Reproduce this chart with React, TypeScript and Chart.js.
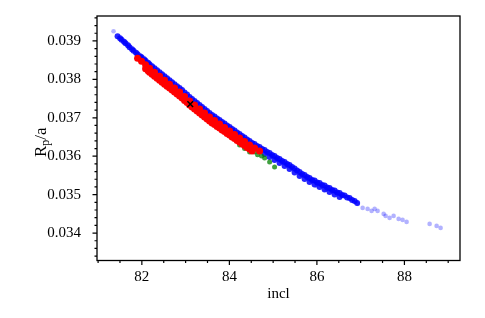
import React, { useEffect, useRef } from "react";
import { Chart, registerables } from "chart.js";

Chart.register(...registerables);

// ---- Data ----
const X_TICKS = [82, 84, 86, 88];
const Y_TICKS = [0.034, 0.035, 0.036, 0.037, 0.038, 0.039];

const BLUE_X = [81.445, 81.536, 81.627, 81.719, 81.81, 81.902, 81.993, 82.085, 82.176, 82.29, 82.405, 82.519, 82.633, 82.747, 82.862, 82.976, 83.09, 83.205, 83.319, 83.433, 83.547, 83.662, 83.776, 83.89, 84.005, 84.119, 84.233, 84.347, 84.462, 84.576, 84.69, 84.805, 84.919, 85.033, 85.147, 85.262, 85.376, 85.49, 85.605, 85.719, 85.833, 85.947, 86.062, 86.176, 86.29, 86.405, 86.519, 86.633, 86.747, 86.862,
  81.502, 81.593, 81.684, 81.776, 81.867, 81.959, 82.05, 82.142, 82.233, 82.347, 82.462, 82.576, 82.69, 82.804, 82.919, 83.033, 83.147, 83.262, 83.376, 83.49, 83.604, 83.719, 83.833, 83.947, 84.062, 84.176, 84.29, 84.404, 84.519, 84.633, 84.747, 84.862, 84.976, 85.09, 85.204, 85.319, 85.433, 85.547, 85.662, 85.776, 85.89, 86.004, 86.119, 86.233, 86.347, 86.462, 86.576, 86.69, 86.804, 86.919,
  84.805, 84.919, 85.033, 85.147, 85.262, 85.376, 85.49, 85.605, 85.719, 85.833, 85.947, 86.062, 86.176, 86.29, 86.405, 86.519];
const BLUE_Y = [0.039122, 0.039031, 0.03894, 0.038836, 0.038745, 0.038655, 0.038577, 0.038486, 0.038395, 0.038291, 0.038187, 0.038083, 0.03798, 0.037876, 0.037772, 0.037655, 0.037538, 0.037434, 0.03733, 0.037226, 0.037122, 0.037031, 0.036941, 0.03685, 0.036759, 0.036668, 0.036577, 0.036486, 0.036395, 0.036317, 0.036239, 0.036161, 0.036083, 0.036005, 0.035927, 0.035849, 0.035771, 0.035681, 0.03559, 0.035512, 0.035434, 0.035369, 0.035304, 0.035239, 0.035174, 0.035109, 0.035044, 0.034979, 0.034914, 0.034836,
  0.03907, 0.038979, 0.038888, 0.038784, 0.038693, 0.038603, 0.038525, 0.038434, 0.038343, 0.038239, 0.038135, 0.038031, 0.037928, 0.037824, 0.03772, 0.037603, 0.037486, 0.037382, 0.037278, 0.037174, 0.03707, 0.036979, 0.036889, 0.036798, 0.036707, 0.036616, 0.036525, 0.036434, 0.036343, 0.036265, 0.036187, 0.036109, 0.036031, 0.035953, 0.035875, 0.035797, 0.035719, 0.035629, 0.035538, 0.03546, 0.035382, 0.035317, 0.035252, 0.035187, 0.035122, 0.035057, 0.034992, 0.034927, 0.034862, 0.034784,
  0.036057, 0.035979, 0.035901, 0.035823, 0.035745, 0.035667, 0.035577, 0.035486, 0.035408, 0.03533, 0.035265, 0.0352, 0.035135, 0.03507, 0.035005, 0.03494];

const TAIL_X = [81.353, 86.935, 87.045, 87.159, 87.25, 87.319, 87.387, 87.525, 87.57, 87.661, 87.753, 87.867, 87.958, 88.05, 88.576, 88.736, 88.827, 85.993, 86.2];
const TAIL_Y = [0.039252, 0.034759, 0.034655, 0.034629, 0.034577, 0.034629, 0.034577, 0.034499, 0.034447, 0.034395, 0.034447, 0.034369, 0.034343, 0.034291, 0.034239, 0.034187, 0.034135, 0.035226, 0.03513];

const RED_X = [81.902, 81.993, 82.085, 82.176, 82.29, 82.405, 82.519, 82.633, 82.747, 82.862, 82.976, 83.09, 83.205, 83.319, 83.433, 83.547, 83.662, 83.776, 83.89, 84.005, 84.119, 84.233, 84.347, 84.462, 84.576, 84.69,
  82.142, 82.233, 82.347, 82.462, 82.576, 82.69, 82.804, 82.919, 83.033, 83.147, 83.262, 83.376, 83.49, 83.604, 83.719, 83.833, 83.947, 84.062, 84.176, 84.29, 84.404, 84.519,
  82.085, 82.176, 82.29, 82.405, 82.519, 82.633, 82.747, 82.862, 82.976, 83.09, 83.205, 83.319, 83.433, 83.547, 83.662, 83.776, 83.89, 84.005, 84.119, 84.233, 84.347, 84.462];
const RED_Y = [0.038551, 0.038473, 0.038382, 0.038291, 0.038187, 0.038083, 0.037979, 0.037876, 0.037772, 0.037668, 0.037551, 0.037434, 0.03733, 0.037226, 0.037122, 0.037018, 0.036927, 0.036837, 0.036746, 0.036655, 0.036564, 0.036473, 0.036382, 0.036291, 0.036213, 0.036135,
  0.038226, 0.038135, 0.038031, 0.037927, 0.037823, 0.03772, 0.037616, 0.037512, 0.037395, 0.037278, 0.037174, 0.03707, 0.036966, 0.036862, 0.036771, 0.036681, 0.03659, 0.036499, 0.036408, 0.036317, 0.036226, 0.036135,
  0.038278, 0.038187, 0.038083, 0.037979, 0.037875, 0.037772, 0.037668, 0.037564, 0.037447, 0.03733, 0.037226, 0.037122, 0.037018, 0.036914, 0.036823, 0.036733, 0.036642, 0.036551, 0.03646, 0.036369, 0.036278, 0.036187];

const GREEN_X = [84.233, 84.347, 84.462, 84.576, 84.644, 84.736, 84.805, 84.919, 85.033];
const GREEN_Y = [0.036291, 0.0362, 0.036109, 0.03611, 0.03604, 0.036006, 0.035954, 0.03585, 0.03572];

const BEST_X = [83.106];
const BEST_Y = [0.037356];

const X_MIN = 80.975;
const X_MAX = 89.27;
const Y_MIN = 0.033286;
const Y_MAX = 0.039649;

const FONT = "'Liberation Serif', 'DejaVu Serif', serif";

const pts = (xs: number[], ys: number[]) => xs.map((x, i) => ({ x, y: ys[i] }));

const framePlugin = {
  id: "frameTicks",
  afterDraw(chart: any) {
    const { ctx, chartArea, scales } = chart;
    const xs = scales.x;
    const ys = scales.y;
    ctx.save();
    ctx.strokeStyle = "#000";
    ctx.lineWidth = 1.3;
    ctx.strokeRect(chartArea.left, chartArea.top, chartArea.right - chartArea.left, chartArea.bottom - chartArea.top);
    ctx.lineWidth = 1.2;
    ctx.beginPath();
    for (let k = 162; k <= 178; k++) {
      const v = k / 2;
      const px = xs.getPixelForValue(v);
      if (px < chartArea.left - 0.5 || px > chartArea.right + 0.5) continue;
      const major = X_TICKS.includes(v);
      ctx.moveTo(px, chartArea.bottom);
      ctx.lineTo(px, chartArea.bottom + (major ? 4.5 : 2.5));
    }
    for (let k = 165; k <= 199; k++) {
      const v = k * 0.0002;
      const py = ys.getPixelForValue(v);
      if (py < chartArea.top - 0.5 || py > chartArea.bottom + 0.5) continue;
      const major = k % 5 === 0;
      ctx.moveTo(chartArea.left, py);
      ctx.lineTo(chartArea.left - (major ? 4.5 : 2.5), py);
    }
    ctx.stroke();

    // y-axis title with subscript
    ctx.fillStyle = "#000";
    ctx.translate(41, (chartArea.top + chartArea.bottom) / 2 + 4);
    ctx.rotate(-Math.PI / 2);
    ctx.textBaseline = "alphabetic";
    const big = `17px ${FONT}`;
    const small = `12px ${FONT}`;
    ctx.font = big;
    const wR = ctx.measureText("R").width;
    const wSlashA = ctx.measureText("/a").width;
    ctx.font = small;
    const wp = ctx.measureText("p").width;
    const total = wR + wp + wSlashA;
    let cx = -total / 2;
    ctx.font = big;
    ctx.fillText("R", cx, 5);
    cx += wR;
    ctx.font = small;
    ctx.fillText("p", cx, 8);
    cx += wp;
    ctx.font = big;
    ctx.fillText("/a", cx, 5);
    ctx.restore();
  },
};

export default function App() {
  const ref = useRef<HTMLCanvasElement | null>(null);
  useEffect(() => {
    if (!ref.current) return;
    const chart = new Chart(ref.current, {
      type: "scatter",
      data: {
        datasets: [
          {
            label: "best",
            data: pts(BEST_X, BEST_Y),
            pointStyle: "crossRot",
            radius: 4,
            borderColor: "#000",
            borderWidth: 1.5,
            backgroundColor: "#000",
          },
          {
            label: "red",
            data: pts(RED_X, RED_Y),
            radius: 3.5,
            borderWidth: 0,
            backgroundColor: "rgb(255,0,0)",
          },
          {
            label: "green",
            data: pts(GREEN_X, GREEN_Y),
            radius: 2.5,
            borderWidth: 0,
            backgroundColor: "rgba(0,128,0,0.75)",
          },
          {
            label: "blue",
            data: pts(BLUE_X, BLUE_Y),
            radius: 3,
            borderWidth: 0,
            backgroundColor: "rgba(0,0,255,0.85)",
          },
          {
            label: "tail",
            data: pts(TAIL_X, TAIL_Y),
            radius: 2.3,
            borderWidth: 0,
            backgroundColor: "rgba(0,0,255,0.3)",
          },
        ],
      },
      options: {
        animation: false,
        responsive: true,
        maintainAspectRatio: false,
        layout: { padding: { left: 0, top: 16, right: 25, bottom: 0 } },
        plugins: { legend: { display: false }, tooltip: { enabled: false } },
        scales: {
          x: {
            type: "linear",
            min: X_MIN,
            max: X_MAX,
            grid: { display: false, drawTicks: false },
            border: { display: false },
            afterBuildTicks: (s: any) => {
              s.ticks = X_TICKS.map((v) => ({ value: v }));
            },
            afterFit: (s: any) => {
              s.height = 57.5;
              s.paddingLeft = 0;
              s.paddingRight = 0;
            },
            ticks: {
              color: "#000",
              font: { family: FONT, size: 15 },
              padding: 8,
              maxRotation: 0,
              callback: (v: any) => String(v),
            },
            title: {
              display: true,
              text: "incl",
              color: "#000",
              font: { family: FONT, size: 15 },
              padding: { top: 0, bottom: 15 },
            },
          },
          y: {
            type: "linear",
            min: Y_MIN,
            max: Y_MAX,
            grid: { display: false, drawTicks: false },
            border: { display: false },
            afterBuildTicks: (s: any) => {
              s.ticks = Y_TICKS.map((v) => ({ value: v }));
            },
            afterFit: (s: any) => {
              s.width = 97;
              s.paddingTop = 0;
              s.paddingBottom = 0;
            },
            ticks: {
              color: "#000",
              font: { family: FONT, size: 15 },
              padding: 16,
              callback: (v: any) => Number(v).toFixed(3),
            },
          },
        },
      },
      plugins: [framePlugin],
    });
    return () => chart.destroy();
  }, []);
  return (
    <div style={{ position: "fixed", left: 0, top: 0, width: 485, height: 318 }}>
      <canvas ref={ref} />
    </div>
  );
}
